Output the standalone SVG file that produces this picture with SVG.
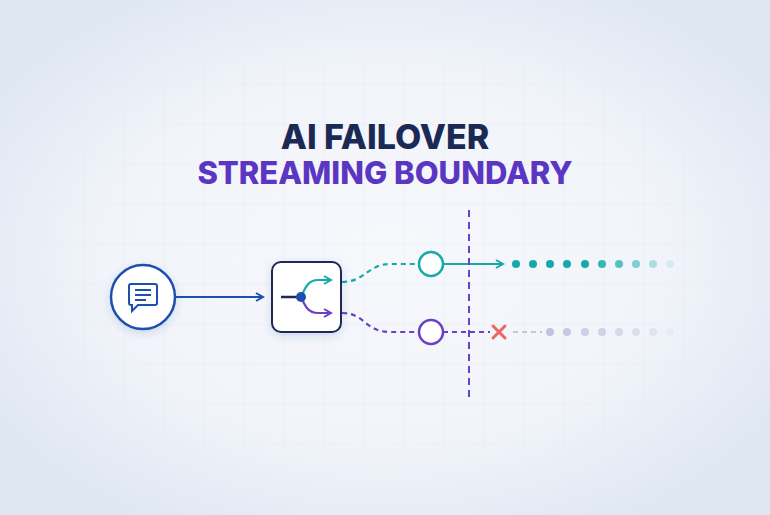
<svg xmlns="http://www.w3.org/2000/svg" width="770" height="515" viewBox="0 0 770 515">
<defs>
<radialGradient id="bg" cx="50%" cy="50%" r="60%">
<stop offset="0" stop-color="#f7f8fc"/><stop offset="0.6" stop-color="#f1f4fa"/><stop offset="1" stop-color="#dfe7f2"/>
</radialGradient>
<pattern id="grid" width="40" height="40" patternUnits="userSpaceOnUse" x="5" y="5">
<path d="M40 0V40M0 40H40" fill="none" stroke="#e3e8f1" stroke-width="1"/>
</pattern>
<marker id="ab" viewBox="0 0 10 10" refX="8" refY="5" markerWidth="10" markerHeight="10" markerUnits="userSpaceOnUse" orient="auto"><path d="M1 1L8 5L1 9" fill="none" stroke="#1e4fb0" stroke-width="2"/></marker>
<marker id="at" viewBox="0 0 10 10" refX="8" refY="5" markerWidth="10" markerHeight="10" markerUnits="userSpaceOnUse" orient="auto"><path d="M1 1L8 5L1 9" fill="none" stroke="#14aaa8" stroke-width="2"/></marker>
<marker id="ap" viewBox="0 0 10 10" refX="8" refY="5" markerWidth="10" markerHeight="10" markerUnits="userSpaceOnUse" orient="auto"><path d="M1 1L8 5L1 9" fill="none" stroke="#6b3fc8" stroke-width="2"/></marker>
<filter id="sh" x="-30%" y="-30%" width="160%" height="160%"><feDropShadow dx="0" dy="3" stdDeviation="4" flood-color="#1e3a8a" flood-opacity="0.15"/></filter>
</defs>
<style>
.t{font-family:Inter,"Liberation Sans",sans-serif;font-weight:800;text-anchor:middle}
.teal{stroke:#14aaa8;fill:none;stroke-width:2.2}
.purp{stroke:#6b3fc8;fill:none;stroke-width:2.2}
.dash{stroke-dasharray:5 4}
</style>
<rect width="770" height="515" fill="url(#bg)"/>
<rect x="40" y="60" width="690" height="390" fill="url(#grid)" opacity="0.8"/>
<text class="t" x="385" y="149" font-size="34" fill="#1b2a55">AI FAILOVER</text>
<text class="t" x="385" y="184" font-size="31" fill="#5b36c2">STREAMING BOUNDARY</text>
<g id="connectors">
<line x1="176" y1="297" x2="263" y2="297" stroke="#1e4fb0" stroke-width="2.2" marker-end="url(#ab)"/>
<path class="teal dash" d="M342 282C365 282 368 264 390 264H419"/>
<line class="teal" x1="443" y1="264" x2="503" y2="264" marker-end="url(#at)"/>
<path class="purp dash" d="M342 313C365 313 365 332 390 332H419"/>
<line class="purp dash" x1="443" y1="332" x2="490" y2="332"/>
<line x1="469" y1="210" x2="469" y2="397" stroke="#6b3fc8" stroke-width="2" stroke-dasharray="7 5"/>
<g fill="#14aaa8">
<circle cx="516" cy="264" r="4"/><circle cx="533" cy="264" r="4"/><circle cx="550" cy="264" r="4"/><circle cx="567" cy="264" r="4"/><circle cx="585" cy="264" r="4"/>
<circle cx="602" cy="264" r="4" opacity="0.85"/><circle cx="619" cy="264" r="4" opacity="0.7"/><circle cx="636" cy="264" r="4" opacity="0.5"/><circle cx="653" cy="264" r="4" opacity="0.3"/><circle cx="670" cy="264" r="4" opacity="0.12"/>
</g>
<g fill="#b9b3d8">
<line x1="513" y1="332" x2="542" y2="332" stroke="#c9c5e0" stroke-width="2" stroke-dasharray="5 4"/>
<circle cx="550" cy="332" r="4" opacity="0.8"/><circle cx="567" cy="332" r="4" opacity="0.7"/><circle cx="585" cy="332" r="4" opacity="0.6"/><circle cx="602" cy="332" r="4" opacity="0.55"/><circle cx="619" cy="332" r="4" opacity="0.45"/><circle cx="636" cy="332" r="4" opacity="0.35"/><circle cx="653" cy="332" r="4" opacity="0.25"/><circle cx="670" cy="332" r="4" opacity="0.12"/>
</g>
<path d="M493 326L505 338M505 326L493 338" stroke="#ef6464" stroke-width="3" stroke-linecap="round"/>
</g>
<g id="message">
<circle cx="143" cy="297" r="32" fill="#fff" stroke="#1e4fb0" stroke-width="2.5" filter="url(#sh)"/>
<path d="M131 284H155Q157 284 157 286V303Q157 305 155 305H138L132 311V305H131Q129 305 129 303V286Q129 284 131 284Z" fill="none" stroke="#1e4fb0" stroke-width="2"/>
<path d="M135 290H151M135 295H151M135 300H146" stroke="#1e4fb0" stroke-width="2"/>
</g>
<g id="router">
<rect x="272" y="262" width="69" height="70" rx="9" fill="#fff" stroke="#1b2a55" stroke-width="2" filter="url(#sh)"/>
<line x1="281" y1="297" x2="300" y2="297" stroke="#1b2a55" stroke-width="2.5"/>
<path class="teal" d="M301 297C305 288 308 280 318 280H331" marker-end="url(#at)"/>
<path class="purp" d="M301 297C305 306 308 313 318 313H331" marker-end="url(#ap)"/>
<circle cx="301" cy="297" r="5" fill="#1e4fb0"/>
</g>
<g id="tealNode"><circle cx="431" cy="264" r="12" fill="#fff" stroke="#14aaa8" stroke-width="2.5"/></g>
<g id="purpleNode"><circle cx="431" cy="332" r="12" fill="#fff" stroke="#6b3fc8" stroke-width="2.5"/></g>
</svg>
